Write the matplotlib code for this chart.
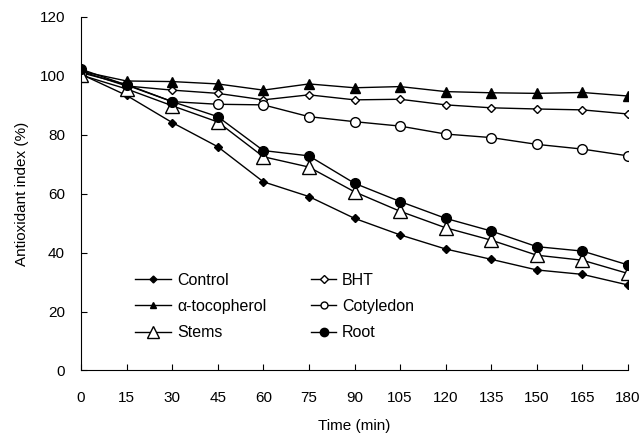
import matplotlib
matplotlib.use("Agg")
import matplotlib.pyplot as plt
from matplotlib.lines import Line2D

plt.rcParams['font.family'] = ['Liberation Sans', 'DejaVu Sans']

time = [0, 15, 30, 45, 60, 75, 90, 105, 120, 135, 150, 165, 180]
control = [100.5, 93.3, 84.1, 75.9, 64.0, 59.0, 51.6, 46.0, 41.2, 37.7, 34.1, 32.6, 29.0]
bht = [101.5, 96.5, 95.1, 94.0, 91.8, 93.5, 91.8, 92.0, 90.1, 89.1, 88.7, 88.4, 87.0]
tocopherol = [101.5, 98.2, 98.0, 97.2, 95.1, 97.2, 95.9, 96.3, 94.6, 94.2, 94.0, 94.3, 93.1]
cotyledon = [101.0, 97.0, 91.2, 90.3, 90.1, 86.1, 84.4, 82.9, 80.2, 79.0, 76.7, 75.1, 72.8]
stems = [100.2, 95.5, 89.8, 84.3, 72.5, 69.0, 60.6, 54.0, 48.4, 44.2, 39.1, 37.4, 32.9]
root = [102.2, 96.8, 91.2, 86.1, 74.6, 72.8, 63.5, 57.3, 51.6, 47.3, 42.0, 40.5, 35.8]

fig = plt.figure(figsize=(6.44, 4.40), dpi=100)
ax = fig.add_axes([0.1258, 0.158, 0.8494, 0.804])

kw = dict(color='black', lw=1.0, mec='black')
ax.plot(time, control, marker='D', ms=4, mfc='black', **kw)
ax.plot(time, bht, marker='D', ms=4.5, mfc='white', **kw)
ax.plot(time, tocopherol, marker='^', ms=6.5, mfc='black', **kw)
ax.plot(time, cotyledon, marker='o', ms=7, mfc='white', **kw)
ax.plot(time, stems, marker='^', ms=10, mfc='white', **kw)
ax.plot(time, root, marker='o', ms=7, mfc='black', **kw)

ax.set_xlim(0, 180)
ax.set_ylim(0, 120)
ax.set_xticks(time)
ax.set_yticks(range(0, 121, 20))
ax.spines['top'].set_visible(False)
ax.spines['right'].set_visible(False)
ax.tick_params(direction='in', length=4.3, labelsize=11)
ax.tick_params(axis='y', pad=11.5)
ax.tick_params(axis='x', pad=15)
ax.set_xlabel('Time (min)', fontsize=11, labelpad=9.5)
ax.set_ylabel('Antioxidant index (%)', fontsize=11, labelpad=7.5)

def h(marker, ms, mfc):
    return Line2D([], [], color='black', lw=1.0, marker=marker, ms=ms, mfc=mfc, mec='black')

leg1 = ax.legend([h('D', 3.5, 'black'), h('^', 5, 'black'), h('^', 9, 'white')],
                 ['Control', 'α-tocopherol', 'Stems'],
                 frameon=False, fontsize=11.5, loc='upper left',
                 bbox_to_anchor=(0.098, 0.276), borderaxespad=0, borderpad=0,
                 handlelength=2.3, handletextpad=0.4, labelspacing=0.7)
ax.add_artist(leg1)
ax.legend([h('D', 4, 'white'), h('o', 5, 'white'), h('o', 6, 'black')],
          ['BHT', 'Cotyledon', 'Root'],
          frameon=False, fontsize=11.5, loc='upper left',
          bbox_to_anchor=(0.420, 0.276), borderaxespad=0, borderpad=0,
          handlelength=1.6, handletextpad=0.35, labelspacing=0.7)

fig.savefig('out.png', dpi=100)
